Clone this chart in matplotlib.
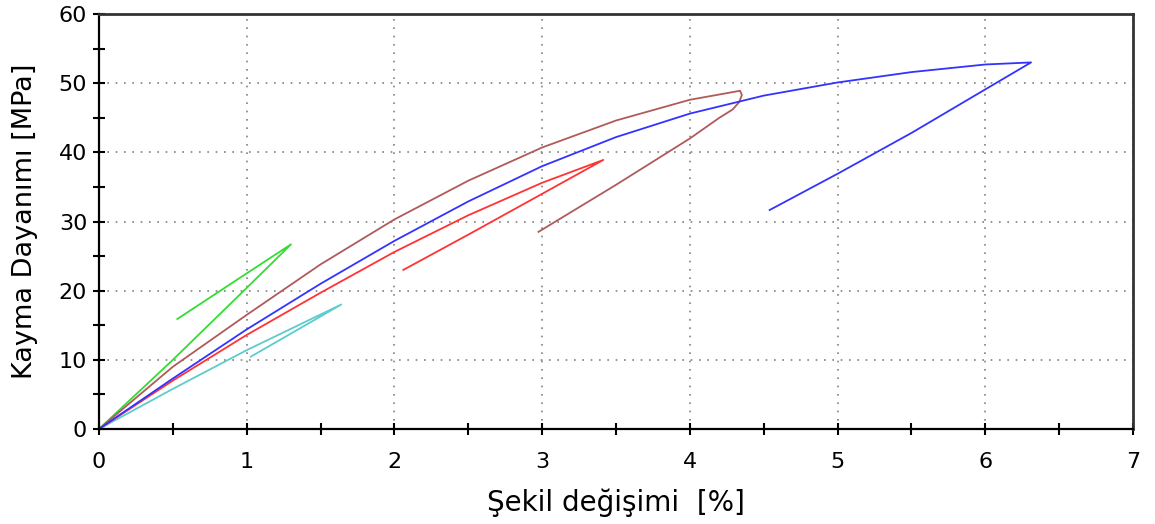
import matplotlib
matplotlib.use("Agg")
import matplotlib.pyplot as plt
from matplotlib.ticker import MultipleLocator

plt.rcParams['font.family'] = ['DejaVu Sans']

# Data (strain %, shear strength MPa)
green_x = [0.0, 0.50, 1.00, 1.30, 1.00, 0.53]
green_y = [0.0, 10.0, 20.4, 26.7, 22.5, 15.9]

cyan_x = [0.0, 0.50, 1.00, 1.64, 1.34, 1.027]
cyan_y = [0.0, 5.8, 11.4, 18.0, 14.3, 10.45]

red_x = [0.0, 0.50, 1.00, 1.50, 2.00, 2.50, 3.00, 3.414, 3.00, 2.50, 2.06]
red_y = [0.0, 7.0, 13.6, 19.7, 25.6, 30.9, 35.6, 38.9, 34.0, 28.1, 23.0]

brown_x = [0.0, 0.50, 1.00, 1.50, 2.00, 2.50, 3.00, 3.50, 4.00, 4.34,
           4.352, 4.335, 4.29, 4.20, 4.00, 3.50, 2.975]
brown_y = [0.0, 9.0, 16.5, 23.8, 30.3, 35.9, 40.7, 44.6, 47.6, 48.9,
           48.3, 47.3, 46.2, 45.0, 42.0, 35.3, 28.5]

blue_x = [0.0, 0.50, 1.00, 1.50, 2.00, 2.50, 3.00, 3.50, 4.00, 4.50, 5.00, 5.50,
          6.00, 6.31, 6.00, 5.50, 5.00, 4.54]
blue_y = [0.0, 7.3, 14.4, 21.0, 27.2, 32.9, 38.0, 42.2, 45.6, 48.2, 50.1, 51.6,
          52.7, 53.0, 49.1, 42.8, 36.9, 31.66]

x_label = "Şekil değişimi  [%]"
y_label = "Kayma Dayanımı [MPa]"

fig = plt.figure(figsize=(11.55, 5.24), dpi=100)
ax = fig.add_axes([99/1155, 1-429/524, (1133-99)/1155, (429-14)/524])

lw = 1.3
ax.plot(cyan_x, cyan_y, color='#5ccccc', lw=lw)
ax.plot(green_x, green_y, color='#33dd33', lw=lw)
ax.plot(red_x, red_y, color='#ff3333', lw=lw)
ax.plot(brown_x, brown_y, color='#b05a5a', lw=lw)
ax.plot(blue_x, blue_y, color='#3333ff', lw=lw)

ax.set_xlim(0, 7)
ax.set_ylim(0, 60)
ax.xaxis.set_major_locator(MultipleLocator(1))
ax.xaxis.set_minor_locator(MultipleLocator(0.5))
ax.yaxis.set_major_locator(MultipleLocator(10))
ax.yaxis.set_minor_locator(MultipleLocator(5))

ax.grid(True, which='major', color='#808080', linestyle=(0, (1, 4)), linewidth=1.2)
ax.set_axisbelow(True)

for s in ['left', 'bottom']:
    ax.spines[s].set_linewidth(1.6)
    ax.spines[s].set_color('black')
for s in ['top', 'right']:
    ax.spines[s].set_linewidth(2.0)
    ax.spines[s].set_color('#333333')

ax.tick_params(axis='both', which='both', direction='inout', length=9, width=1.5,
               color='black', labelsize=16, top=False, right=False)
ax.tick_params(axis='x', pad=12)
ax.tick_params(axis='y', pad=4)

ax.set_xlabel(x_label, fontsize=20, labelpad=12)
ax.set_ylabel(y_label, fontsize=19.5, labelpad=15)

fig.savefig('out.png', dpi=100)
